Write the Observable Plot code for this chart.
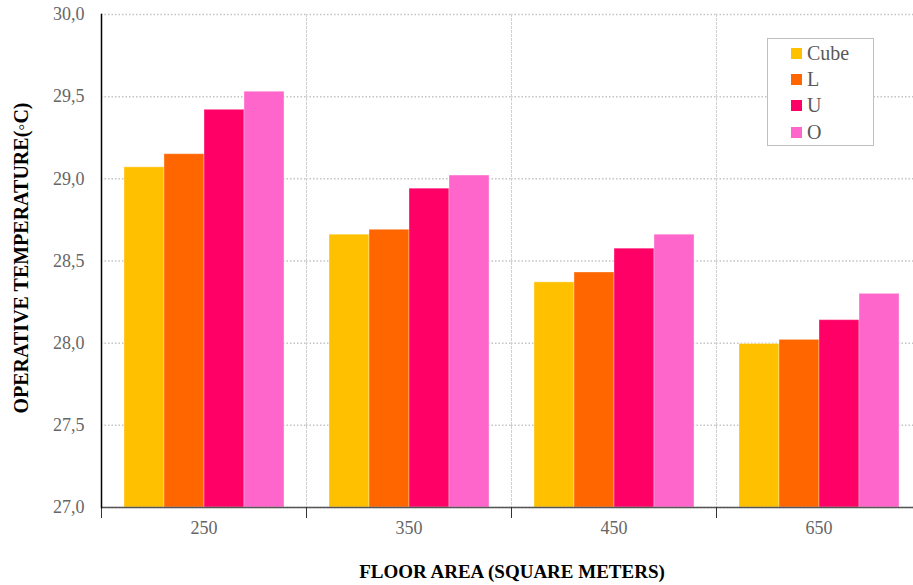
<!DOCTYPE html>
<html><head><meta charset="utf-8">
<script src="https://cdn.jsdelivr.net/npm/d3@7"></script>
<script src="https://cdn.jsdelivr.net/npm/@observablehq/plot@0.6"></script>
<style>
body{margin:0;background:#fff;}
#wrap{position:relative;width:913px;height:585px;overflow:hidden;font-family:"Liberation Serif","Times New Roman",serif;}
#wrap svg{position:absolute;left:0;top:0;}
.title{position:absolute;font-weight:bold;font-size:19px;color:#000;white-space:nowrap;}
#xt{left:0;width:1024px;text-align:center;top:561px;}
#yt{left:21px;top:258px;transform:translate(-50%,-50%) rotate(-90deg);font-size:20px;}
#legend{position:absolute;left:767px;top:38px;width:105px;height:106px;border:1.5px solid #bfbfbf;background:#fff;}
.li{position:absolute;left:23px;height:24px;display:flex;align-items:center;font-size:20px;color:#595959;}
.sw{width:11px;height:11px;margin-right:5px;}
</style></head><body><div id="wrap"></div>
<script>
const areas = ["250", "350", "450", "650"];
const shapes = ["Cube", "L", "U", "O"];
const cubeVals = [29.07, 28.66, 28.37, 27.995];
const lVals = [29.15, 28.69, 28.43, 28.02];
const uVals = [29.42, 28.94, 28.575, 28.14];
const oVals = [29.53, 29.02, 28.66, 28.30];
const colors = ["#FFC000", "#FF6600", "#FF0066", "#FF66CC"];
const yDomain = [27, 30];
const yTicks = [27, 27.5, 28, 28.5, 29, 29.5, 30];
const xTitle = "FLOOR AREA (SQUARE METERS)";
const yTitle = "OPERATIVE TEMPERATURE(◦C)";

const series = [cubeVals, lVals, uVals, oVals];
const data = areas.flatMap((a, i) => shapes.map((s, j) => ({area: a, shape: s, value: series[j][i]})));

const plot = Plot.plot({
  width: 913, height: 585,
  marginTop: 14, marginBottom: 78, marginLeft: 101, marginRight: -8,
  style: {fontFamily: "'Liberation Serif','Times New Roman',serif", fontSize: "18px", background: "transparent", overflow: "visible"},
  fx: {domain: areas, padding: 0, label: null},
  x: {domain: shapes, paddingInner: 0, paddingOuter: 0.53, axis: null},
  y: {domain: yDomain, label: null},
  color: {domain: shapes, range: colors},
  marks: [
    Plot.gridY(yTicks, {stroke: "#c4c4c4", strokeOpacity: 1, strokeWidth: 1.5, strokeDasharray: "1.5,2"}),
    Plot.frame({anchor: "left", stroke: "#cfcfcf", strokeWidth: 1, strokeDasharray: "2,2"}),
    Plot.barY(data, {fx: "area", x: "shape", y1: yDomain[0], y2: "value", fill: "shape", stroke: "white", strokeOpacity: 0.35, strokeWidth: 1}),
    Plot.ruleY([yDomain[0]], {stroke: "#555", strokeWidth: 1.5}),
    Plot.frame({anchor: "left", stroke: "#333", strokeWidth: 1, insetTop: 493, insetBottom: -10}),
    Plot.frame({anchor: "left", facet: "super", stroke: "#000", strokeWidth: 1.5}),
    Plot.axisY({ticks: yTicks, tickSize: 0, tickPadding: 17, label: null, color: "#666", tickFormat: d => d.toFixed(1).replace(".", ",")}),
    Plot.axisFx({anchor: "bottom", tickSize: 0, tickPadding: 14, label: null, color: "#666"})
  ]
});
const wrap = document.getElementById("wrap");
wrap.appendChild(plot);

const xt = document.createElement("div"); xt.className = "title"; xt.id = "xt"; xt.textContent = xTitle; wrap.appendChild(xt);
const yt = document.createElement("div"); yt.className = "title"; yt.id = "yt"; yt.textContent = yTitle; wrap.appendChild(yt);

const lg = document.createElement("div"); lg.id = "legend";
shapes.forEach((s, i) => {
  const it = document.createElement("div"); it.className = "li";
  it.style.top = (2 + i * 26.4) + "px";
  const sw = document.createElement("div"); sw.className = "sw"; sw.style.background = colors[i];
  const tx = document.createElement("span"); tx.textContent = s;
  it.appendChild(sw); it.appendChild(tx); lg.appendChild(it);
});
wrap.appendChild(lg);
</script></body></html>
